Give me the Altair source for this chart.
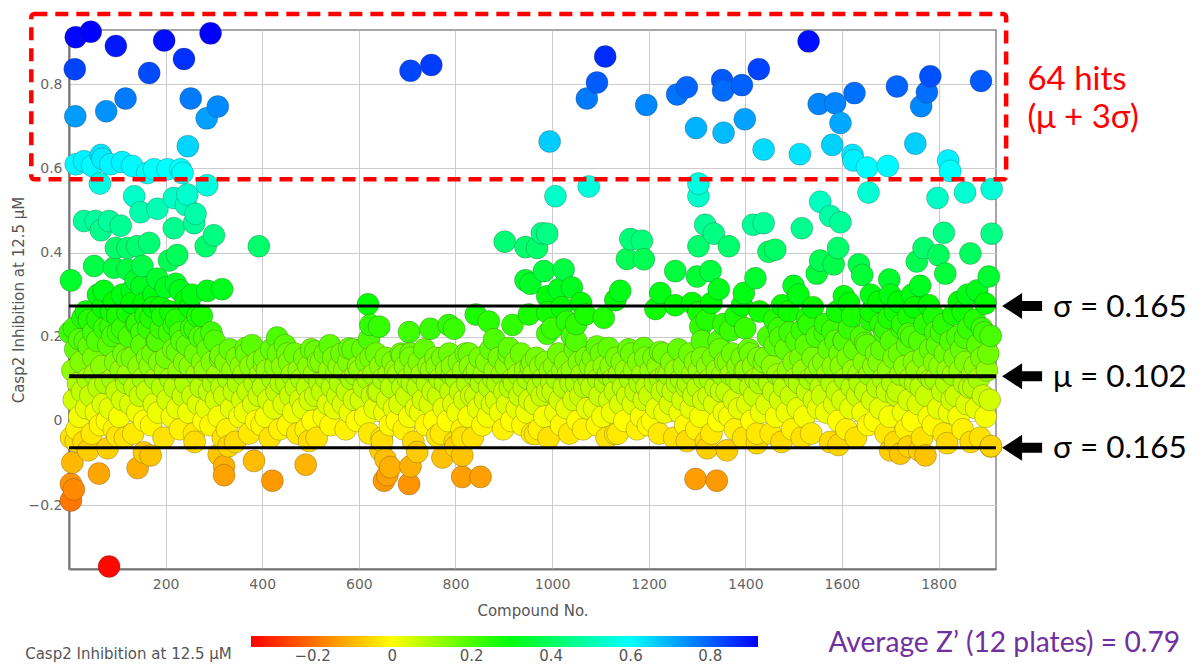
import altair as alt
import pandas as pd

# ---- data: (compound no., inhibition) ----
hits = [(14,0.912),(45,0.925),(97,0.891),(197,0.904),(293,0.921),(238,0.860),(166,0.827),(12,0.836),
        (117,0.766),(77,0.736),(13,0.724),(252,0.766),(308,0.747),(285,0.719),(246,0.653),
        (14,0.610),(31,0.617),(48,0.606),(66,0.632),(69,0.623),(86,0.610),(110,0.615),(131,0.606),
        (162,0.589),(176,0.598),(204,0.598),(231,0.598),(235,0.589),
        (707,0.832),(750,0.846),
        (1110,0.866),(1093,0.804),(1072,0.766),(1195,0.751),(1259,0.776),(1279,0.793),(1352,0.810),
        (1354,0.785),(1393,0.798),(1428,0.836),(1298,0.696),(1355,0.685),(1399,0.717),(1438,0.645),(995,0.664),
        (1531,0.902),(1552,0.753),(1586,0.755),(1626,0.779),(1597,0.708),(1714,0.795),(1783,0.819),
        (1776,0.781),(1764,0.748),(1888,0.808),
        (1513,0.634),(1580,0.656),(1622,0.632),(1624,0.619),(1652,0.602),(1695,0.606),(1752,0.659),
        (1820,0.619),(1824,0.594)]

mid1 = [(64,0.564),(286,0.560),(135,0.534),(148,0.496),(183,0.504),(217,0.530),(245,0.538),(242,0.513),
        (262,0.492),(259,0.470),(217,0.458),(31,0.475),(55,0.475),(83,0.475),(107,0.464),(66,0.453),
        (97,0.411),(141,0.415),(166,0.423),(121,0.411),(283,0.415),(300,0.441),(393,0.415),(207,0.381),
        (224,0.394),(52,0.368),(93,0.364),(121,0.360),(152,0.368),(138,0.334),(183,0.338),(4,0.334),
        (72,0.309),(200,0.317),(221,0.326),(286,0.309),(317,0.313),(93,0.283),(155,0.279),(242,0.287),
        (28,0.245),(59,0.241),(121,0.258),(169,0.245),(193,0.249),(266,0.249),(86,0.224),(141,0.232),
        (217,0.228),(280,0.198),(21,0.194),(41,0.177),(90,0.202),(183,0.190),(121,0.147),(162,0.151),
        (224,0.164),(314,0.156),(366,0.173),(431,0.198),(452,0.160),(404,0.134),
        (10,0.22),(35,0.26),(50,0.21),(70,0.27),(100,0.25),(110,0.22),(130,0.28),(150,0.21),(175,0.27),
        (190,0.22),(210,0.26),(230,0.21),(250,0.27),(260,0.22),(275,0.25),(295,0.21),(110,0.30),
        (130,0.31),(175,0.30),(230,0.31),(255,0.30),(60,0.30),(150,0.32)]

mid2 = [(902,0.426),(945,0.413),(945,0.334),(619,0.277),(624,0.228),(642,0.224),(621,0.194),(704,0.211),
        (707,0.160),(690,0.156),(748,0.219),(786,0.228),(797,0.219),(842,0.253),(869,0.236),(880,0.194),
        (911,0.173),(918,0.228),(828,0.160),(793,0.130),(952,0.253),(959,0.139),(510,0.165),(540,0.180),
        (580,0.172)]

mid3 = [(1007,0.534),(1076,0.557),(1303,0.564),(1303,0.534),(979,0.446),(990,0.445),(969,0.411),(983,0.356),
        (955,0.326),(1024,0.360),(1041,0.317),(1014,0.313),(990,0.296),(1162,0.432),(1186,0.428),(1155,0.385),
        (1190,0.384),(1141,0.309),(1131,0.287),(1107,0.245),(1069,0.253),(1255,0.356),(1224,0.304),(1214,0.266),
        (1255,0.275),(1317,0.466),(1335,0.445),(1366,0.415),(1303,0.415),(1300,0.343),(1328,0.356),(1345,0.313),
        (1397,0.304),(1421,0.339),(1416,0.466),(1438,0.470),(1448,0.402),(1393,0.275),(1303,0.258),(1307,0.224),
        (1345,0.190),(1369,0.215),(990,0.258),(1031,0.236),(1041,0.202),(990,0.207),(1093,0.177),(1117,0.173),
        (1190,0.173),(1224,0.164),(1410,0.160),(1000,0.22),(1020,0.27),(1050,0.23),(1060,0.28),(1290,0.28),
        (1320,0.24),(1330,0.28),(1355,0.23),(1380,0.25),(1400,0.22),(1430,0.26),(1310,0.19),(1050,0.19)]

mid4 = [(1655,0.543),(1798,0.530),(1855,0.543),(1910,0.551),(1555,0.521),(1576,0.487),(1597,0.472),(1517,0.458),
        (1811,0.447),(1910,0.445),(1462,0.407),(1592,0.411),(1555,0.381),(1583,0.372),(1769,0.411),(1755,0.379),
        (1800,0.394),(1866,0.398),(1548,0.350),(1635,0.372),(1642,0.347),(1698,0.336),(1762,0.321),(1814,0.350),
        (1904,0.343),(1500,0.321),(1510,0.300),(1476,0.275),(1604,0.296),(1676,0.283),(1717,0.283),(1780,0.275),
        (1842,0.283),(1897,0.279),(1528,0.245),(1621,0.249),(1697,0.245),(1738,0.249),(1831,0.253),(1472,0.198),
        (1517,0.215),(1580,0.215),(1648,0.185),(1690,0.219),(1738,0.207),(1793,0.211),(1855,0.198),(1908,0.202),
        (1604,0.190),(1460,0.24),(1490,0.26),(1540,0.27),(1565,0.23),(1590,0.26),(1615,0.28),(1660,0.26),
        (1680,0.23),(1710,0.26),(1725,0.23),(1750,0.27),(1790,0.25),(1810,0.23),(1850,0.26),(1875,0.24),
        (1890,0.22),(1660,0.30),(1700,0.30),(1745,0.30),(1860,0.30),(1880,0.31)]

low = [(14,-0.048),(100,-0.036),(169,-0.082),(142,-0.112),(62,-0.125),(7,-0.099),(4,-0.150),(10,-0.163),
       (4,-0.189),(321,-0.108),(321,-0.129),(383,-0.095),(421,-0.142),(80,-0.065),(83,-0.346),(40,-0.07),
       (155,-0.075),(310,-0.08),(330,-0.06),(260,-0.05),(490,-0.104),(497,-0.048),(648,-0.048),(655,-0.091),
       (659,-0.129),(652,-0.142),(704,-0.150),(707,-0.108),(721,-0.074),(762,-0.036),(773,-0.087),(800,-0.061),
       (814,-0.082),(814,-0.133),(852,-0.133),(814,-0.040),(665,-0.11),(645,-0.07),(1297,-0.138),(1341,-0.142),
       (1131,-0.031),(1321,-0.065),(1362,-0.070),(1279,-0.048),(965,-0.031),(1424,-0.053),(1721,-0.078),
       (1773,-0.082),(1738,-0.061),(1818,-0.053),(1908,-0.061),(1593,-0.057),(1700,-0.07),(1760,-0.07)]

# dense band, values in compound order (compounds 1-480, 481-960, 961-1440, 1441-1910)
band_a = [0.21,-0.04,0.12,0.05,0.17,-0.02,0.09,0.01,0.14,0.07,-0.05,0.19,0.03,0.10,
          0.24,0.06,-0.03,0.15,0.11,0.02,0.19,0.08,-0.01,0.13,0.04,0.22,0.09,0.00,
          0.18,0.03,0.26,0.10,-0.02,0.14,0.07,0.21,0.01,0.12,0.05,0.16,-0.04,0.09,
          0.11,0.20,0.04,0.15,-0.03,0.08,0.23,0.02,0.13,0.06,0.18,0.10,0.00,0.25,
          0.07,0.22,0.13,-0.01,0.16,0.04,0.10,0.19,0.02,0.14,0.27,0.08,-0.04,0.12,
          0.15,0.05,0.21,0.10,0.01,0.17,0.08,0.24,0.03,0.12,-0.02,0.19,0.06,0.14,
          0.09,0.18,0.02,0.13,0.22,0.06,-0.03,0.16,0.11,0.04,0.20,0.08,0.14,0.00,
          0.12,0.03,0.17,0.07,-0.01,0.14,0.09,0.19,0.05,0.11,0.01,0.15,0.08,-0.04,
          0.06,0.14,-0.02,0.10,0.17,0.03,0.12,0.07,-0.05,0.15,0.09,0.01,0.13,0.05,
          0.11,0.02,0.16,0.07,-0.03,0.13,0.18,0.04,0.09,0.00,0.14,0.06,0.11,-0.01,
          0.08,0.15,0.01,0.12,0.05,-0.04,0.17,0.10,0.03,0.13,0.07,0.16,-0.02,0.09,
          0.13,0.04,0.18,0.09,-0.01,0.14,0.06,0.11,0.02,0.16,0.08,-0.03,0.12,0.05]
band_b = [0.10,0.03,0.15,-0.02,0.08,0.13,0.05,0.17,0.00,0.11,0.06,-0.04,0.14,0.09,
          0.14,0.07,0.01,0.16,0.10,0.04,0.12,-0.01,0.08,0.15,0.03,0.11,0.06,0.13,
          0.09,0.16,0.04,0.12,-0.02,0.07,0.14,0.02,0.10,0.17,0.05,0.11,0.00,0.13,
          0.12,0.05,0.17,0.08,0.01,0.14,0.10,-0.03,0.15,0.06,0.11,0.03,0.16,0.07,
          0.07,0.13,-0.04,0.10,0.02,0.15,0.05,0.11,-0.01,0.08,0.14,0.03,0.12,0.00,
          0.11,0.04,0.16,0.08,-0.02,0.13,0.06,0.10,0.01,0.15,0.09,-0.05,0.12,0.03,
          0.08,0.14,0.02,0.11,0.05,0.17,-0.01,0.09,0.13,0.04,0.12,0.07,0.00,0.15,
          0.13,0.06,0.10,-0.03,0.15,0.03,0.09,0.12,0.00,0.16,0.07,0.11,0.04,-0.05,
          0.10,0.02,0.14,0.07,-0.02,0.12,0.05,0.16,0.09,0.01,0.13,0.06,-0.04,0.11,
          0.06,0.12,0.03,0.15,0.09,-0.01,0.11,0.05,0.14,0.01,0.08,0.17,0.04,0.10,
          0.12,0.05,0.09,0.15,0.02,0.11,-0.02,0.07,0.13,0.04,0.16,0.08,0.00,0.10,
          0.09,0.14,0.03,0.11,0.06,0.16,-0.01,0.08,0.12,0.02,0.10,0.05,0.13,-0.03]
band_c = [0.11,0.04,0.15,0.08,-0.02,0.13,0.06,0.10,0.01,0.14,0.07,-0.04,0.12,0.09,
          0.07,0.13,0.02,0.10,0.16,0.05,-0.01,0.12,0.08,0.14,0.03,0.11,-0.03,0.09,
          0.12,0.05,0.17,0.09,0.00,0.14,0.06,0.11,-0.02,0.08,0.15,0.03,0.10,0.13,
          0.08,0.15,0.03,0.12,-0.01,0.10,0.06,0.16,0.01,0.13,0.09,-0.04,0.11,0.05,
          0.13,0.02,0.10,0.07,0.15,-0.03,0.11,0.04,0.14,0.08,0.00,0.12,0.06,0.17,
          0.10,0.16,0.04,0.12,0.07,-0.02,0.14,0.09,0.01,0.11,0.05,0.15,0.08,-0.01,
          0.06,0.12,0.00,0.15,0.09,0.03,0.13,-0.03,0.10,0.07,0.16,0.02,0.11,0.08,
          0.11,0.04,0.14,0.07,-0.04,0.12,0.09,0.17,0.02,0.10,0.05,0.13,-0.01,0.08,
          0.09,0.16,0.03,0.11,0.06,0.14,-0.02,0.08,0.12,0.01,0.15,0.05,0.10,-0.05,
          0.13,0.06,0.10,-0.03,0.15,0.04,0.08,0.12,0.00,0.17,0.07,0.11,0.02,0.14,
          0.07,0.14,0.01,0.11,0.16,0.05,-0.02,0.10,0.13,0.03,0.09,0.15,-0.04,0.12,
          0.12,0.04,0.17,0.08,0.00,0.13,0.06,0.10,-0.03,0.15,0.09,0.02,0.11,0.14]
band_d = [0.15,0.04,0.20,0.09,-0.03,0.13,0.07,0.18,0.01,0.11,0.22,0.05,-0.05,0.10,
          0.08,0.17,0.02,0.12,0.21,0.06,-0.02,0.14,0.10,0.19,0.03,0.09,0.15,-0.04,
          0.12,0.01,0.18,0.07,0.23,0.10,-0.03,0.15,0.05,0.11,0.20,0.03,0.13,0.08,
          0.06,0.14,0.21,0.02,0.11,0.17,-0.05,0.09,0.13,0.04,0.19,0.07,0.00,0.16,
          0.13,0.05,0.19,0.10,-0.02,0.15,0.22,0.03,0.08,0.12,0.17,-0.04,0.06,0.11,
          0.09,0.20,0.02,0.14,0.07,0.18,-0.01,0.11,0.24,0.05,0.13,0.00,0.16,0.08,
          0.14,0.03,0.17,0.10,0.21,-0.03,0.07,0.12,0.01,0.19,0.09,0.15,-0.05,0.06,
          0.07,0.16,0.11,0.22,0.02,0.13,-0.02,0.18,0.05,0.10,0.20,0.00,0.14,0.09,
          0.12,0.04,0.19,0.08,-0.04,0.15,0.23,0.06,0.11,0.01,0.17,0.10,-0.01,0.14,
          0.10,0.18,0.03,0.13,0.21,0.07,-0.03,0.16,0.09,0.12,0.02,0.19,0.05,0.11,
          0.15,0.06,0.20,0.01,0.12,0.17,-0.02,0.09,0.14,0.04,0.22,0.08,-0.05,0.11,
          0.08,0.13,0.03,0.18,0.10,-0.04,0.15,0.06,0.21,0.01,0.12,0.16,0.05,-0.06]
band_ranges = [(0, 480, band_a), (480, 960, band_b), (960, 1440, band_c), (1440, 1910, band_d)]

# reference lines (mu + sigma, mu, mu - sigma) as drawn
line_vals = [0.273, 0.106, -0.064]
line_widths = [3, 4, 3]
line_labels = ["σ = 0.165", "μ = 0.102", "σ = 0.165"]
hit_box = (-78, 1940, 0.967, 0.574)

# ---- build tables ----
rows = []
for group in (hits, mid1, mid2, mid3, mid4, low):
    rows.extend(group)
for start, end, vals in band_ranges:
    n = len(vals)
    for i, v in enumerate(vals):
        rows.append((start + (i + 0.5) * (end - start) / n, v))
pts = pd.DataFrame(rows, columns=["x", "v"]).sort_values("x").reset_index(drop=True)

xs = alt.Scale(domain=[0, 1919], nice=False, zero=False)
ys = alt.Scale(domain=[-0.352, 0.929], nice=False, zero=False)
cs = alt.Scale(domain=[-0.355, 0, 0.28, 0.6, 0.92],
               range=["#ff0000", "#ffff00", "#00ff00", "#00ffff", "#0000ff"],
               interpolate="rgb")

GRAY_FONT = "DejaVu Sans"
xaxis = alt.Axis(values=[200, 400, 600, 800, 1000, 1200, 1400, 1600, 1800], format="d",
                 title="Compound No.", titleX=463.5, titleY=41, titleAlign="center",
                 titleBaseline="middle", titleFont=GRAY_FONT, titleFontSize=15,
                 titleFontWeight="normal", titleColor="#555555",
                 labelFont=GRAY_FONT, labelFontSize=14, labelColor="#666666",
                 labelPadding=8, ticks=False, domainColor="#777777", domainWidth=2,
                 grid=True, gridColor="#cccccc", gridWidth=1)
yaxis = alt.Axis(values=[-0.2, 0, 0.2, 0.4, 0.6, 0.8], format=".1~f",
                 title="Casp2 Inhibition at 12.5 μM", titleX=-51, titleY=269.5,
                 titleAngle=-90, titleAlign="center", titleBaseline="middle",
                 titleFont=GRAY_FONT, titleFontSize=15, titleFontWeight="normal",
                 titleColor="#555555", labelFont=GRAY_FONT, labelFontSize=14,
                 labelColor="#666666", labelPadding=7, ticks=False,
                 domainColor="#777777", domainWidth=2, grid=True,
                 gridColor="#cccccc", gridWidth=1)
legend = alt.Legend(orient="none", legendX=182, legendY=606, direction="horizontal",
                    gradientLength=507, gradientThickness=11, title=None, padding=0,
                    values=[-0.2, 0, 0.2, 0.4, 0.6, 0.8], format=".1~f",
                    labelFont=GRAY_FONT, labelFontSize=15, labelColor="#555555",
                    labelOffset=2, gradientStrokeWidth=0)


def X(field):
    return alt.X(field, scale=xs, axis=xaxis)


def Y(field):
    return alt.Y(field, scale=ys, axis=yaxis)


points = alt.Chart(pts).mark_circle(size=484, opacity=1, stroke="#333333",
                                    strokeOpacity=0.35, strokeWidth=0.8).encode(
    x=X("x:Q"), y=Y("v:Q"),
    color=alt.Color("v:Q", scale=cs, legend=legend),
)

lines_df = pd.DataFrame({"y": line_vals, "w": line_widths})
rules = alt.Chart(lines_df).mark_rule(color="black").encode(
    y=Y("y:Q"),
    strokeWidth=alt.StrokeWidth("w:Q", scale=None, legend=None),
)

box_df = pd.DataFrame({"x": [hit_box[0]], "x2": [hit_box[1]], "y": [hit_box[2]], "y2": [hit_box[3]]})
box = alt.Chart(box_df).mark_rect(fillOpacity=0, stroke="#ff0000", strokeWidth=4.5,
                                  strokeDash=[13, 8], cornerRadius=3).encode(
    x=X("x:Q"), x2="x2:Q", y=Y("y:Q"), y2="y2:Q",
)

arrow_shape = "M-1,0 L0,-0.65 L0,-0.25 L1,-0.25 L1,0.25 L0,0.25 L0,0.65 Z"
arrow_df = pd.DataFrame({"x": [1973] * 3, "y": line_vals})
arrows = alt.Chart(arrow_df).mark_point(shape=arrow_shape, filled=True, color="black",
                                        size=1600, opacity=1, strokeWidth=0).encode(
    x=X("x:Q"), y=Y("y:Q"),
)

sig_df = pd.DataFrame({"x": [2037] * 3, "y": [0.248, 0.081, -0.089], "t": line_labels})
sig_text = alt.Chart(sig_df).mark_text(align="left", baseline="alphabetic", font="Lato",
                                       fontSize=31.5, color="black").encode(
    x=X("x:Q"), y=Y("y:Q"), text="t:N")

hit_df = pd.DataFrame({"x": [1984, 1984], "y": [0.786, 0.696], "t": ["64 hits", "(μ + 3σ)"]})
hit_text = alt.Chart(hit_df).mark_text(align="left", baseline="alphabetic", font="Lato",
                                       fontSize=33, color="#ff0000").encode(
    x=X("x:Q"), y=Y("y:Q"), text="t:N")

z_df = pd.DataFrame({"x": [1572], "y": [-0.549], "t": ["Average Z’ (12 plates) = 0.79"]})
z_text = alt.Chart(z_df).mark_text(align="left", baseline="alphabetic", font="Lato",
                                   fontSize=28.2, color="#7030a0").encode(
    x=X("x:Q"), y=Y("y:Q"), text="t:N")

lt_df = pd.DataFrame({"x": [337], "y": [-0.566], "t": ["Casp2 Inhibition at 12.5 μM"]})
leg_title = alt.Chart(lt_df).mark_text(align="right", baseline="alphabetic", font=GRAY_FONT,
                                       fontSize=15, color="#555555").encode(
    x=X("x:Q"), y=Y("y:Q"), text="t:N")

chart = alt.layer(points, rules, box, arrows, sig_text, hit_text, z_text, leg_title).properties(
    width=927, height=539,
    autosize=alt.AutoSizeParams(type="none"),
    padding={"left": 61, "top": 22, "right": 194, "bottom": 95},
).configure_view(stroke="#888888", strokeWidth=1.5)

chart.save("out.html", embed_options={"renderer": "svg", "actions": False})
